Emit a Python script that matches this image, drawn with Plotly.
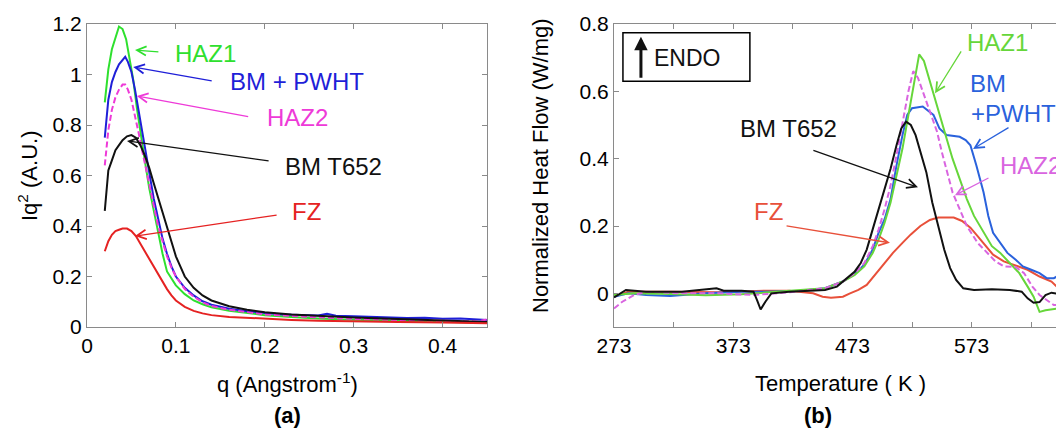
import plotly.graph_objects as go

# ---- panel (a): Iq^2 vs q ----
q_haz1 = [0.020, 0.024, 0.028, 0.032, 0.036, 0.040, 0.044, 0.048, 0.052, 0.056, 0.060, 0.065, 0.070, 0.075,
          0.080, 0.085, 0.090, 0.095, 0.100, 0.110, 0.120, 0.130, 0.140, 0.160, 0.180, 0.200, 0.230, 0.260,
          0.300, 0.350, 0.400, 0.450]
i_haz1 = [0.89, 1.02, 1.10, 1.15, 1.19, 1.18, 1.14, 1.06, 0.98, 0.87, 0.77, 0.66, 0.55, 0.46,
          0.38, 0.29, 0.22, 0.19, 0.165, 0.13, 0.105, 0.09, 0.078, 0.064, 0.055, 0.047, 0.04, 0.034,
          0.029, 0.024, 0.02, 0.017]

q_pwht = [0.020, 0.024, 0.028, 0.032, 0.036, 0.040, 0.043, 0.046, 0.050, 0.054, 0.058, 0.062, 0.066, 0.070,
          0.075, 0.080, 0.085, 0.090, 0.095, 0.100, 0.110, 0.120, 0.130, 0.140, 0.160, 0.180, 0.200, 0.220,
          0.240, 0.260, 0.270, 0.280, 0.300, 0.320, 0.340, 0.360, 0.380, 0.400, 0.420, 0.440, 0.450]
i_pwht = [0.75, 0.90, 0.97, 1.01, 1.04, 1.06, 1.07, 1.05, 1.01, 0.94, 0.86, 0.77, 0.69, 0.61,
          0.51, 0.43, 0.35, 0.29, 0.24, 0.20, 0.155, 0.125, 0.102, 0.088, 0.072, 0.062, 0.055, 0.05,
          0.048, 0.046, 0.052, 0.045, 0.043, 0.04, 0.038, 0.036, 0.037, 0.033, 0.034, 0.03, 0.028]

q_haz2 = [0.020, 0.024, 0.028, 0.032, 0.036, 0.040, 0.043, 0.046, 0.050, 0.054, 0.058, 0.062, 0.066, 0.070,
          0.075, 0.080, 0.085, 0.090, 0.095, 0.100, 0.110, 0.120, 0.130, 0.140, 0.160, 0.180, 0.200, 0.250,
          0.300, 0.350, 0.400, 0.440, 0.450]
i_haz2 = [0.64, 0.78, 0.86, 0.91, 0.94, 0.96, 0.96, 0.94, 0.90, 0.84, 0.77, 0.70, 0.63, 0.56,
          0.48, 0.40, 0.34, 0.28, 0.235, 0.20, 0.15, 0.12, 0.098, 0.083, 0.068, 0.058, 0.05, 0.04,
          0.032, 0.028, 0.025, 0.022, 0.03]

q_t652 = [0.020, 0.022, 0.024, 0.028, 0.032, 0.036, 0.040, 0.045, 0.050, 0.055, 0.060, 0.065, 0.070, 0.075,
          0.080, 0.085, 0.090, 0.095, 0.100, 0.105, 0.110, 0.120, 0.130, 0.140, 0.150, 0.160, 0.180, 0.200,
          0.230, 0.260, 0.300, 0.350, 0.400, 0.450]
i_t652 = [0.46, 0.56, 0.62, 0.66, 0.70, 0.72, 0.74, 0.755, 0.76, 0.75, 0.72, 0.68, 0.63, 0.57,
          0.51, 0.45, 0.40, 0.34, 0.28, 0.24, 0.20, 0.155, 0.125, 0.105, 0.092, 0.082, 0.068, 0.058,
          0.05, 0.044, 0.038, 0.032, 0.026, 0.02]

q_fz = [0.020, 0.024, 0.028, 0.032, 0.036, 0.040, 0.045, 0.050, 0.055, 0.060, 0.065, 0.070, 0.075, 0.080,
        0.085, 0.090, 0.095, 0.100, 0.110, 0.120, 0.130, 0.140, 0.160, 0.180, 0.200, 0.230, 0.260, 0.300,
        0.350, 0.400, 0.450]
i_fz = [0.30, 0.34, 0.365, 0.38, 0.385, 0.39, 0.39, 0.38, 0.36, 0.33, 0.30, 0.265, 0.235, 0.205,
        0.175, 0.15, 0.125, 0.105, 0.08, 0.064, 0.054, 0.047, 0.04, 0.036, 0.033, 0.028, 0.025, 0.022,
        0.02, 0.018, 0.015]

# ---- panel (b): DSC heat flow vs temperature ----
t_haz1 = [273, 290, 320, 350, 380, 400, 430, 450, 465, 475, 483, 490, 495, 500, 505, 510, 515, 520, 525, 529,
          533, 537, 542, 547, 552, 557, 561, 569, 575, 580, 590, 597, 605, 613, 620, 625, 630, 635, 645, 652]
h_haz1 = [-0.005, 0.0, -0.002, -0.006, -0.003, 0.002, 0.008, 0.015, 0.035, 0.055, 0.08, 0.12, 0.16, 0.21,
          0.27, 0.35, 0.43, 0.53, 0.63, 0.71, 0.69, 0.64, 0.58, 0.52, 0.46, 0.40, 0.36, 0.28, 0.23, 0.20,
          0.14, 0.12, 0.09, 0.06, 0.02, -0.01, -0.055, -0.05, -0.045, -0.04]

t_pwht = [273, 285, 300, 320, 350, 380, 400, 430, 450, 465, 475, 483, 490, 495, 500, 505, 510, 515, 519, 523,
          532, 541, 546, 552, 563, 568, 572, 577, 583, 587, 591, 597, 603, 610, 616, 623, 630, 636, 642, 647,
          652]
h_pwht = [-0.01, 0.0, -0.005, -0.008, 0.0, 0.005, 0.005, 0.008, 0.015, 0.035, 0.058, 0.085, 0.13, 0.18,
          0.22, 0.28, 0.38, 0.47, 0.53, 0.55, 0.555, 0.53, 0.49, 0.47, 0.465, 0.455, 0.44, 0.38, 0.30, 0.23,
          0.18, 0.15, 0.12, 0.10, 0.08, 0.07, 0.06, 0.045, 0.045, 0.055, 0.07]

t_haz2 = [273, 280, 290, 300, 330, 360, 390, 420, 450, 465, 475, 483, 490, 495, 500, 505, 510, 515, 520, 524,
          528, 532, 536, 540, 544, 548, 552, 557, 563, 569, 578, 586, 593, 600, 610, 617, 624, 630, 636, 642,
          652]
h_haz2 = [-0.045, -0.025, -0.005, 0.005, 0.0, 0.0, -0.005, 0.003, 0.015, 0.035, 0.06, 0.09, 0.14, 0.19,
          0.25, 0.32, 0.41, 0.50, 0.60, 0.66, 0.64, 0.60, 0.56, 0.52, 0.48, 0.42, 0.37, 0.30, 0.25, 0.20,
          0.15, 0.12, 0.095, 0.08, 0.078, 0.06, 0.02, -0.005, -0.02, -0.035, -0.035]

t_t652 = [273, 283, 300, 330, 359, 365, 380, 390, 393, 396, 400, 405, 420, 450, 460, 468, 475, 480, 485, 490,
          495, 500, 505, 510, 514, 518, 522, 526, 530, 535, 540, 545, 550, 555, 560, 566, 575, 590, 605, 615,
          620, 625, 630, 635, 640, 652]
h_t652 = [-0.012, 0.01, 0.005, 0.005, 0.015, 0.008, 0.008, 0.005, -0.02, -0.048, -0.025, 0.0, 0.005, 0.01,
          0.02, 0.045, 0.065, 0.09, 0.13, 0.19, 0.25, 0.31, 0.37, 0.44, 0.49, 0.51, 0.50, 0.47, 0.42, 0.36,
          0.27, 0.20, 0.13, 0.075, 0.04, 0.015, 0.01, 0.012, 0.01, 0.005, -0.015, -0.028, -0.026, -0.005,
          0.002, -0.005]

t_fz = [273, 285, 320, 360, 400, 420, 440, 448, 455, 465, 471, 478, 485, 492, 500, 507, 515, 522, 530, 538,
        545, 558, 565, 572, 578, 585, 591, 600, 610, 620, 630, 640, 645, 652]
h_fz = [-0.01, 0.005, 0.005, 0.003, 0.008, 0.008, 0.0, -0.01, -0.013, -0.01, 0.0, 0.01, 0.025, 0.055,
        0.09, 0.12, 0.15, 0.175, 0.20, 0.218, 0.225, 0.225, 0.215, 0.195, 0.17, 0.14, 0.115, 0.095, 0.082,
        0.07, 0.05, 0.035, 0.018, 0.0]

q_ticks = [0, 0.1, 0.2, 0.3, 0.4]
iq_ticks = [0, 0.2, 0.4, 0.6, 0.8, 1, 1.2]
iq_labels = ['0', '0.2', '0.4', '0.6', '0.8', '1', '1.2']
t_ticks = [273, 323, 373, 423, 473, 523, 573, 623]
t_labels = ['273', '', '373', '', '473', '', '573', '']
hf_ticks = [0, 0.2, 0.4, 0.6, 0.8]

# the page body adds an 8px margin, so the figure is drawn 8px smaller and
# positions below are given in window pixels
OFF = 8
W, H = 1064 - OFF, 434 - OFF
FONT = 'Liberation Sans, Arial, sans-serif'


def px(x):
    return (x - OFF) / W


def py(y):
    return 1 - (y - OFF) / H


fig = go.Figure()

left = [
    (q_haz1, i_haz1, '#2ee02e', 'solid', 'HAZ1'),
    (q_pwht, i_pwht, '#1f1fd8', 'solid', 'BM + PWHT'),
    (q_haz2, i_haz2, '#ee3ad8', '6px,3px', 'HAZ2'),
    (q_t652, i_t652, '#111111', 'solid', 'BM T652'),
    (q_fz, i_fz, '#e52222', 'solid', 'FZ'),
]
for xs, ys, col, dash, name in left:
    fig.add_trace(go.Scatter(x=xs, y=ys, mode='lines', name=name,
                             line=dict(color=col, width=2, dash=dash),
                             xaxis='x', yaxis='y'))

right = [
    (t_fz, h_fz, '#e8503a', 'solid', 'FZ'),
    (t_pwht, h_pwht, '#2a62dc', 'solid', 'BM +PWHT'),
    (t_haz1, h_haz1, '#66d63a', 'solid', 'HAZ1'),
    (t_haz2, h_haz2, '#d965e0', '6px,3px', 'HAZ2'),
    (t_t652, h_t652, '#111111', 'solid', 'BM T652'),
]
for xs, ys, col, dash, name in right:
    fig.add_trace(go.Scatter(x=xs, y=ys, mode='lines', name=name,
                             line=dict(color=col, width=2, dash=dash),
                             xaxis='x2', yaxis='y2'))

axis_style = dict(showline=True, linecolor='#8a8a8a', linewidth=1.2, mirror='ticks',
                  ticks='inside', ticklen=5, tickcolor='#8a8a8a', showgrid=False,
                  zeroline=False, automargin=False,
                  tickfont=dict(size=21, color='black', family=FONT))

ydom = [py(327), py(24)]
fig.update_layout(
    template='none',
    width=W, height=H,
    margin=dict(l=0, r=0, t=0, b=0, pad=0, autoexpand=False),
    paper_bgcolor='white', plot_bgcolor='white',
    showlegend=False,
    font=dict(family=FONT, color='black'),
    xaxis=dict(domain=[px(87), px(487)], range=[0, 0.45], tickvals=q_ticks, anchor='y', **axis_style),
    yaxis=dict(domain=ydom, range=[0, 1.2], tickvals=iq_ticks, ticktext=iq_labels, anchor='x', **axis_style),
    xaxis2=dict(domain=[px(614), 1.0], range=[273, 650.5], tickvals=t_ticks, ticktext=t_labels,
                anchor='y2', **axis_style),
    yaxis2=dict(domain=ydom, range=[-0.1, 0.8], tickvals=hf_ticks, anchor='x2', **axis_style),
)

ann = []


def label(text, x, y, col, ref, size=24):
    ann.append(dict(text=text, x=x, y=y, xref='x' + ref, yref='y' + ref, showarrow=False,
                    xanchor='left', yanchor='middle', font=dict(size=size, color=col, family=FONT)))


def arrow(x, y, ax, ay, col, ref, width=1.3, head=5, size=1.4):
    ann.append(dict(text='', x=x, y=y, ax=ax, ay=ay, xref='x' + ref, yref='y' + ref,
                    axref='x' + ref, ayref='y' + ref, showarrow=True, arrowhead=head,
                    arrowsize=size, arrowwidth=width, arrowcolor=col))


def title(text, x, y, angle=0, bold=False):
    ann.append(dict(text='<b>%s</b>' % text if bold else text, x=px(x), y=py(y),
                    xref='paper', yref='paper', xanchor='center', yanchor='middle',
                    showarrow=False, textangle=angle, font=dict(size=22)))


# panel (a) labels
label('HAZ1', 0.097, 1.085, '#2ee02e', '')
arrow(0.054, 1.097, 0.082, 1.089, '#2ee02e', '')
label('BM + PWHT', 0.159, 0.974, '#1f1fd8', '')
arrow(0.052, 1.03, 0.142, 0.974, '#1f1fd8', '')
label('HAZ2', 0.200, 0.828, '#ee3ad8', '')
arrow(0.056, 0.915, 0.183, 0.832, '#ee3ad8', '')
label('BM T652', 0.220, 0.634, '#111111', '')
arrow(0.045, 0.737, 0.206, 0.657, '#111111', '')
label('FZ', 0.228, 0.459, '#e52222', '')
arrow(0.054, 0.36, 0.215, 0.444, '#e52222', '')

# panel (b) labels
label('HAZ1', 567.5, 0.744, '#66d63a', '2')
arrow(542.3, 0.594, 565, 0.723, '#66d63a', '2')
label('BM', 570, 0.624, '#2a62dc', '2')
label('+PWHT', 571, 0.534, '#2a62dc', '2')
arrow(574.2, 0.429, 605.2, 0.495, '#2a62dc', '2')
label('HAZ2', 595, 0.381, '#d965e0', '2')
arrow(559, 0.291, 588.4, 0.345, '#d965e0', '2')
label('BM T652', 377, 0.489, '#111111', '2')
arrow(528, 0.315, 439, 0.426, '#111111', '2')
label('FZ', 388.8, 0.243, '#e8503a', '2')
arrow(504.5, 0.15, 416.5, 0.201, '#e8503a', '2')
label('ENDO', 305, 0.699, '#111111', '2', size=23)
arrow(295.6, 0.762, 295.6, 0.636, '#111111', '2', width=3, head=2, size=0.9)

# axis titles and panel tags
title('q (Angstrom<sup>-1</sup>)', 287, 383)
title('(a)', 287, 415, bold=True)
title('Iq<sup>2</sup> (A.U.)', 28, 176, angle=-90)
title('Temperature ( K )', 840, 383)
title('(b)', 818, 415, bold=True)
title('Normalized Heat Flow (W/mg)', 540, 166, angle=-90)
fig.update_layout(annotations=ann)

fig.add_shape(type='rect', xref='x2', yref='y2', x0=280.5, x1=387, y0=0.63, y1=0.774,
              line=dict(color='black', width=1.5), fillcolor='rgba(0,0,0,0)')

fig.write_html('out.html')
